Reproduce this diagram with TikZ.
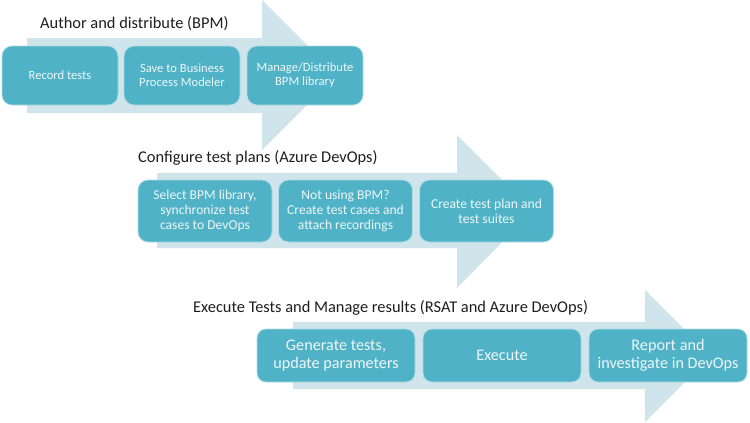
\documentclass[tikz,border=0pt]{standalone}
\usepackage{fontspec}
\setmainfont{Carlito}
\usepackage{tikz}

\definecolor{stepfill}{HTML}{4FB2C6}
\definecolor{flowband}{HTML}{D0E5EB}
\definecolor{titlegrey}{HTML}{1E1E1E}

\tikzset{
    stage/.style={rectangle, rounded corners=10pt, fill=stepfill, draw=white!55!stepfill, line width=0.8pt,
                  text=white!90!stepfill, align=center, inner sep=0pt},
    heading/.style={anchor=base west, inner sep=0pt, text=titlegrey, font=\fontsize{16.4}{19}\selectfont},
}

\begin{document}
\begin{tikzpicture}[x=1pt,y=-1pt]
                    \useasboundingbox (0,0) rectangle (750,423);
                    \fill[flowband] (27,38) -- (262,38) -- (262,0) -- (337,75) -- (262,150) -- (262,113) -- (27,113) -- cycle;          %band 1
                    \fill[flowband] (157,173) -- (457,173) -- (457,135) -- (533,211) -- (457,288) -- (457,248) -- (157,248) -- cycle;  %band 2
                    \fill[flowband] (293,322) -- (645,322) -- (645,290) -- (711,356) -- (645,422) -- (645,389) -- (293,389) -- cycle;  %band 3
                    \node[heading] (author) at (40,28) {Author and distribute (BPM)};
                    \node[heading] (configure) at (138,162) {Configure test plans (Azure DevOps)};
                    \node[heading] (execute) at (193,312) {Execute Tests and Manage results (RSAT and Azure DevOps)};
                    % stage 1
                    \node[stage, minimum width=116pt, minimum height=59pt, font=\fontsize{12.6}{14}\selectfont] (record) at (60,75.5) {Record tests};
                    \node[stage, minimum width=116pt, minimum height=59pt, font=\fontsize{12.6}{14}\selectfont] (save) at (182,75.5) {Save to Business\\Process Modeler};
                    \node[stage, minimum width=116pt, minimum height=59pt, font=\fontsize{12.6}{14}\selectfont] (manage) at (305,75.5) {Manage/Distribute\\BPM library};
                    % stage 2
                    \node[stage, minimum width=134pt, minimum height=62pt, font=\fontsize{13.6}{15}\selectfont] (select) at (205,211) {Select BPM library,\\synchronize test\\cases to DevOps};
                    \node[stage, minimum width=134pt, minimum height=62pt, font=\fontsize{13.6}{15}\selectfont] (notbpm) at (345.5,211) {Not using BPM?\\Create test cases and\\attach recordings};
                    \node[stage, minimum width=134pt, minimum height=62pt, font=\fontsize{13.6}{15}\selectfont] (plan) at (486.5,211) {Create test plan and\\test suites};
                    % stage 3
                    \node[stage, minimum width=158pt, minimum height=53pt, rounded corners=9pt, font=\fontsize{16.2}{18}\selectfont] (generate) at (336,355.5) {Generate tests,\\update parameters};
                    \node[stage, minimum width=158pt, minimum height=53pt, rounded corners=9pt, font=\fontsize{16.2}{18}\selectfont] (run) at (502,355.5) {Execute};
                    \node[stage, minimum width=158pt, minimum height=53pt, rounded corners=9pt, font=\fontsize{16.2}{18}\selectfont] (report) at (668,355.5) {Report and\\investigate in DevOps};
                \end{tikzpicture}
\end{document}
